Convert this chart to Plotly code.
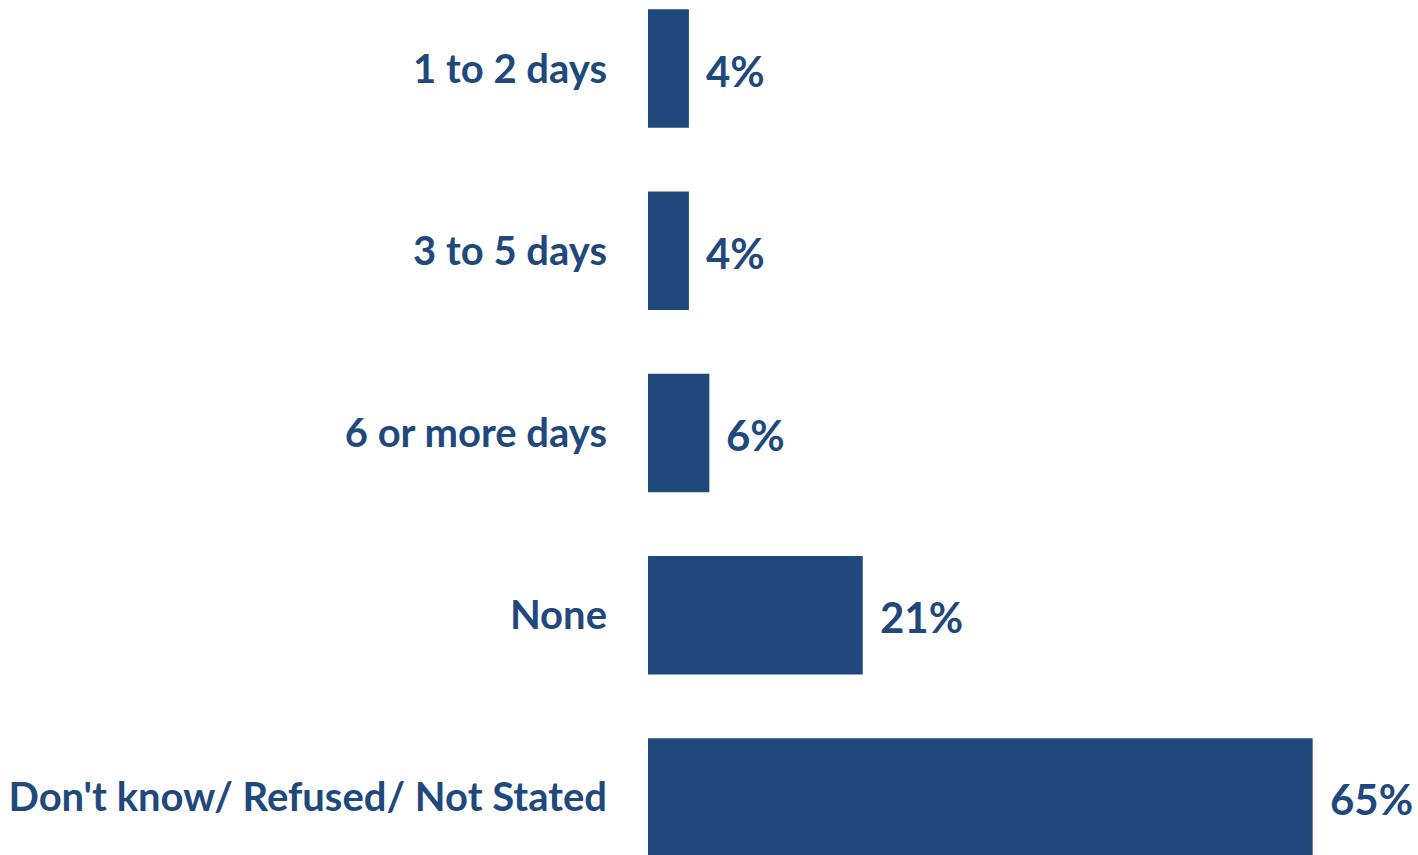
import plotly.graph_objects as go

categories = ["1 to 2 days", "3 to 5 days", "6 or more days", "None",
              "Don't know/ Refused/ Not Stated"]
values = [4, 4, 6, 21, 65]
value_labels = ["4%", "4%", "6%", "21%", "65%"]

NAVY = "#1F497D"
FONT = "Lato"

fig = go.Figure(
    go.Bar(
        x=values,
        y=categories,
        orientation="h",
        marker=dict(color=NAVY, line=dict(width=0)),
        width=0.65,
        hoverinfo="skip",
    )
)

for cat, val, lab in zip(categories, values, value_labels):
    fig.add_annotation(
        x=val, y=cat, text=f"<b>{lab}</b>", showarrow=False,
        xanchor="left", xshift=15, yshift=-2,
        font=dict(family=FONT, size=42, color=NAVY),
    )

fig.update_layout(
    width=1418, height=855,
    margin=dict(l=648, r=0, t=0, b=0),
    plot_bgcolor="white", paper_bgcolor="white",
    showlegend=False,
    bargap=0.35,
    xaxis=dict(range=[0, 75.3], visible=False, fixedrange=True),
    yaxis=dict(
        range=[4.316, -0.376],
        showgrid=False, zeroline=False, showline=False, ticks="",
        ticklabelstandoff=40,
        tickfont=dict(family=FONT, size=40, color=NAVY, weight="bold"),
    ),
)

fig.write_html("out.html")
